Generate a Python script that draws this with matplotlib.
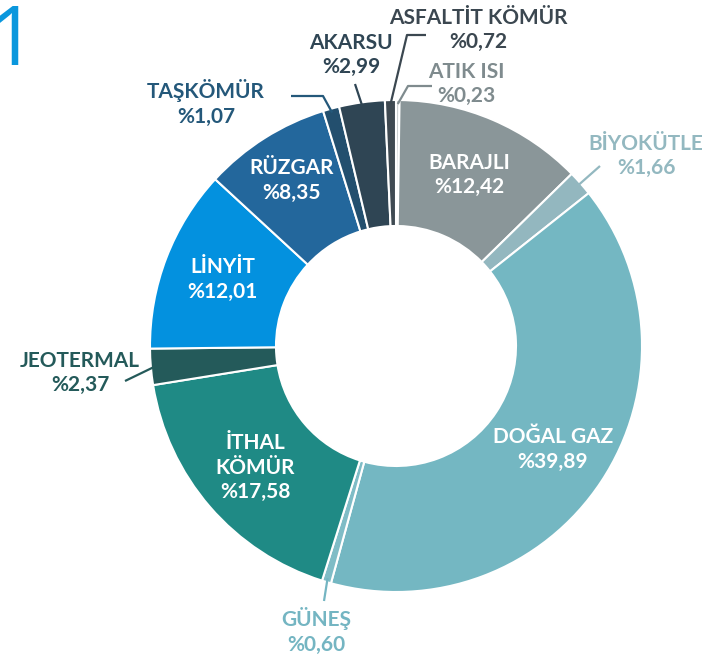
import numpy as np
import matplotlib
matplotlib.use('Agg')
import matplotlib.pyplot as plt

# kaynak bazinda uretim paylari (%)
names = ['ATIK ISI', 'BARAJLI', 'BİYOKÜTLE', 'DOĞAL GAZ', 'GÜNEŞ', 'İTHAL\nKÖMÜR',
         'JEOTERMAL', 'LİNYİT', 'RÜZGAR', 'TAŞKÖMÜR', 'AKARSU', 'ASFALTİT KÖMÜR']
shares = [0.23, 12.42, 1.66, 39.89, 0.60, 17.58, 2.37, 12.01, 8.35, 1.07, 2.99, 0.72]
share_labels = ['%0,23', '%12,42', '%1,66', '%39,89', '%0,60', '%17,58',
                '%2,37', '%12,01', '%8,35', '%1,07', '%2,99', '%0,72']

colors = ['#c9cdcf', '#8a9699', '#93b7bf', '#74b7c2', '#7fbcc6', '#1f8a85',
          '#245a5a', '#0391df', '#23679c', '#234f6e', '#2f4554', '#3f4a52']

plt.rcParams['font.family'] = ['Lato', 'DejaVu Sans']

R = 246.0
R_IN = 120.0

fig = plt.figure(figsize=(7.24, 6.62), dpi=100)
ax = fig.add_axes([0, 0, 1, 1])

wedges, _ = ax.pie(shares, colors=colors, startangle=90, counterclock=False,
                   radius=R, wedgeprops=dict(width=R - R_IN, edgecolor='white',
                                             linewidth=1.5))
ax.set_xlim(-396, 328)
ax.set_ylim(-316, 346)
ax.set_aspect('equal')
ax.axis('off')

def mid_angle(w):
    return np.deg2rad((w.theta1 + w.theta2) / 2.0)

# dilim icindeki etiketler
inside = {1: 186, 3: 188, 5: 186, 7: 186, 8: 196}
for i, r in inside.items():
    a = mid_angle(wedges[i])
    ax.text(r * np.cos(a), r * np.sin(a), names[i] + '\n' + share_labels[i],
            ha='center', va='center', color='white', fontsize=15,
            fontweight='bold', linespacing=1.3)

# disaridaki etiketler: (metin yeri, kirilma noktalari, renk)
outside = {
    11: ((82, 316), [(11, 311), (30, 311)], '#3b4750'),
    0: ((70, 262), [(12, 260), (36, 260)], '#7f8b8e'),
    10: ((-45, 291), [(-41, 262)], '#2f4554'),
    9: ((-190, 243), [(-73, 250), (-105, 250)], '#24587a'),
    2: ((250, 190), [(204, 180)], '#93b8c0'),
    6: ((-316, -27), [(-271, -35)], '#245a5a'),
    4: ((-80, -285), [(-72, -255)], '#74b5c2'),
}
for i, (pos, pts, c) in outside.items():
    a = mid_angle(wedges[i])
    xs = [(R - 4) * np.cos(a)] + [p[0] for p in pts]
    ys = [(R - 4) * np.sin(a)] + [p[1] for p in pts]
    ax.plot(xs, ys, color=c, linewidth=1.6, solid_capstyle='butt')
    ax.text(pos[0], pos[1], names[i] + '\n' + share_labels[i], ha='center',
            va='center', color=c, fontsize=15, fontweight='bold', linespacing=1.3)

# sol ustteki sayfa numarasi (kenarda kesik)
fig.text(-0.016, 1 - 65 / 662.0, '1', ha='left', va='baseline', color='#0a97dd',
         fontsize=60, fontweight='normal', family=['Open Sans', 'DejaVu Sans'])

fig.savefig('out.png', dpi=100)
